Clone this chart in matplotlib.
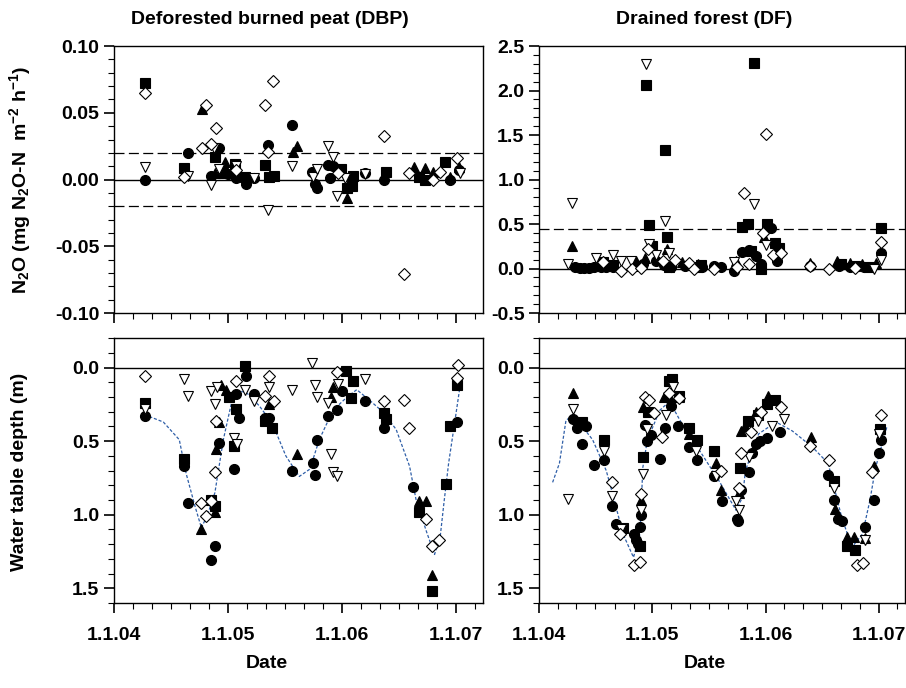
import matplotlib
matplotlib.use('Agg')
import matplotlib.pyplot as plt
import matplotlib.dates as mdates
from matplotlib.ticker import MultipleLocator, FormatStrFormatter
import pandas as pd

plt.rcParams['font.family'] = ['Liberation Sans', 'DejaVu Sans']
plt.rcParams['font.weight'] = 'bold'
plt.rcParams['axes.unicode_minus'] = False
plt.rcParams['mathtext.fontset'] = 'custom'
plt.rcParams['mathtext.rm'] = 'Liberation Sans:bold'
plt.rcParams['mathtext.it'] = 'Liberation Sans:bold'
plt.rcParams['mathtext.bf'] = 'Liberation Sans:bold'
plt.rcParams['mathtext.default'] = 'rm'

# ---------------- DBP N2O flux ----------------
dbp_n2o_circle_d = ['2004-04-08', '2004-08-25', '2004-11-06', '2004-12-02', '2005-01-01', '2005-01-27',
                    '2005-02-25', '2005-03-25', '2005-05-09', '2005-07-24', '2005-09-26', '2005-10-04',
                    '2005-10-12', '2005-11-16', '2005-12-02', '2005-11-21', '2006-03-13', '2006-05-13',
                    '2006-12-13', '2007-01-10']
dbp_n2o_circle_v = [0.000, 0.020, 0.003, 0.024, 0.004, 0.001, -0.003, 0.001, 0.026, 0.041, 0.006, -0.003,
                    -0.006, 0.011, 0.010, 0.001, 0.005, 0.000, 0.000, 0.007]
dbp_n2o_square_d = ['2004-04-08', '2004-08-11', '2004-11-19', '2004-12-16', '2005-01-22', '2005-02-23',
                    '2005-04-29', '2005-05-10', '2005-05-26', '2005-12-28', '2006-01-15', '2006-02-01',
                    '2006-02-04', '2006-05-22', '2006-09-04', '2006-09-22', '2006-11-25']
dbp_n2o_square_v = [0.072, 0.0085, 0.017, 0.005, 0.012, 0.002, 0.011, 0.002, 0.003, 0.008, -0.0065, -0.0045,
                    0.003, 0.0055, 0.002, 0.000, 0.013]
dbp_n2o_tri_d = ['2004-10-08', '2004-11-20', '2004-12-20', '2005-07-26', '2005-08-09', '2006-01-16',
                 '2006-08-19', '2006-09-22', '2006-10-19', '2006-12-13', '2007-01-10']
dbp_n2o_tri_v = [0.0525, 0.005, 0.013, 0.021, 0.025, -0.014, 0.0096, 0.009, 0.006, 0.002, 0.0096]
dbp_n2o_tridown_d = ['2004-04-08', '2004-08-25', '2004-11-06', '2004-11-16', '2004-12-02', '2005-01-27',
                     '2005-03-25', '2005-05-09', '2005-07-24', '2005-09-29', '2005-10-12', '2005-11-16',
                     '2005-12-01', '2005-12-15', '2006-01-10', '2006-03-13', '2007-01-11']
dbp_n2o_tridown_v = [0.0093, 0.003, -0.004, 0.024, 0.008, 0.010, 0.0015, -0.023, 0.010, 0.002, 0.008, 0.025,
                     0.017, -0.012, 0.001, 0.004, 0.005]
dbp_n2o_diam_d = ['2004-04-08', '2004-08-11', '2004-10-08', '2004-10-20', '2004-11-05', '2004-11-24',
                  '2005-01-27', '2005-04-29', '2005-05-25', '2005-05-09', '2005-12-18', '2006-05-13',
                  '2006-07-16', '2006-08-01', '2006-10-19', '2006-11-10', '2007-01-03']
dbp_n2o_diam_v = [0.065, 0.002, 0.0235, 0.0555, 0.027, 0.039, 0.007, 0.056, 0.074, 0.021, 0.005, 0.033,
                  -0.0705, 0.005, 0.000, 0.006, 0.016]

# ---------------- DF N2O flux ----------------
df_n2o_circle_d = ['2004-04-25', '2004-05-11', '2004-05-26', '2004-06-12', '2004-06-28', '2004-07-19',
                   '2004-08-05', '2004-08-26', '2004-11-10', '2004-12-01', '2005-01-11', '2005-02-07',
                   '2005-03-01', '2005-04-16', '2005-06-10', '2005-07-19', '2005-08-10', '2005-09-22',
                   '2005-10-16', '2005-11-10', '2005-12-01', '2005-12-16', '2006-01-18', '2006-02-07',
                   '2006-05-25', '2006-08-25', '2006-10-01', '2006-11-16', '2007-01-10']
df_n2o_circle_v = [0.02, 0.01, 0.01, 0.01, 0.02, 0.02, 0.02, 0.02, 0.03, 0.05, 0.08, 0.04, 0.02, 0.03, 0.02,
                   0.03, 0.02, -0.03, 0.19, 0.21, 0.14, 0.05, 0.46, 0.08, 0.03, 0.03, 0.02, 0.02, 0.18]
df_n2o_square_d = ['2004-07-27', '2004-08-26', '2004-12-10', '2004-12-20', '2005-01-01', '2005-02-12',
                   '2005-02-17', '2005-02-25', '2005-05-25', '2005-06-07', '2005-10-16', '2005-11-07',
                   '2005-11-16', '2005-11-25', '2005-12-16', '2006-01-07', '2006-02-01', '2006-02-13',
                   '2006-09-01', '2006-10-16', '2006-12-01', '2007-01-10']
df_n2o_square_v = [0.07, 0.04, 2.06, 0.49, 0.25, 1.33, 0.35, 0.02, 0.02, 0.04, 0.47, 0.50, 0.20, 2.31, 0.0,
                   0.50, 0.29, 0.23, 0.05, 0.03, 0.02, 0.46]
df_n2o_tri_d = ['2004-04-16', '2004-11-10', '2004-12-07', '2005-02-17', '2005-04-07', '2005-05-28',
                '2005-09-28', '2005-12-28', '2006-05-25', '2006-08-19', '2006-10-01', '2006-11-07',
                '2006-12-25']
df_n2o_tri_v = [0.25, 0.08, 0.12, 0.22, 0.07, 0.05, 0.09, 0.35, 0.06, 0.08, 0.06, 0.05, 0.06]
df_n2o_tridown_d = ['2004-04-04', '2004-04-16', '2004-07-04', '2004-08-26', '2004-09-22', '2004-10-24',
                    '2004-12-10', '2004-12-22', '2005-01-11', '2005-02-10', '2005-02-25', '2005-09-22',
                    '2005-11-25', '2006-01-01', '2006-12-16', '2007-01-10']
df_n2o_tridown_v = [0.05, 0.74, 0.12, 0.15, 0.08, 0.08, 2.30, 0.28, 0.15, 0.53, 0.18, 0.07, 0.72, 0.27,
                    0.0, 0.10]
df_n2o_diam_d = ['2004-07-24', '2004-09-22', '2004-10-28', '2004-11-25', '2004-12-19', '2005-02-04',
                 '2005-03-16', '2005-04-28', '2005-05-16', '2005-07-19', '2005-10-01', '2005-10-25',
                 '2005-11-10', '2005-12-25', '2006-01-04', '2006-01-25', '2006-02-19', '2006-05-25',
                 '2006-07-25', '2006-10-16', '2007-01-10']
df_n2o_diam_v = [0.07, -0.03, 0.00, 0.01, 0.22, 0.08, 0.10, 0.06, 0.0, 0.0, 0.02, 0.85, 0.05, 0.40, 1.515,
                 0.15, 0.17, 0.025, 0.00, 0.01, 0.30]

# ---------------- DBP water table ----------------
dbp_wt_circle_d = ['2004-04-08', '2004-08-11', '2004-08-25', '2004-11-05', '2004-11-19', '2004-12-02',
                   '2005-01-20', '2005-01-27', '2005-02-04', '2005-02-25', '2005-03-25', '2005-04-29',
                   '2005-05-10', '2005-07-24', '2005-09-28', '2005-10-04', '2005-10-13', '2005-11-16',
                   '2005-12-16', '2006-01-01', '2006-03-13', '2006-05-13', '2006-08-16', '2007-01-04']
dbp_wt_circle_v = [0.33, 0.67, 0.92, 1.31, 1.21, 0.51, 0.69, 0.18, 0.34, 0.06, 0.18, 0.34, 0.34, 0.70, 0.65,
                   0.73, 0.49, 0.33, 0.29, 0.16, 0.23, 0.41, 0.81, 0.37]
dbp_wt_square_d = ['2004-04-08', '2004-08-11', '2004-11-05', '2004-11-19', '2005-01-04', '2005-01-20',
                   '2005-01-27', '2005-02-22', '2005-04-29', '2005-05-22', '2006-01-11', '2006-01-28',
                   '2006-02-04', '2006-05-13', '2006-05-22', '2006-09-04', '2006-10-16', '2006-11-28',
                   '2006-12-10', '2007-01-04']
dbp_wt_square_v = [0.24, 0.62, 0.90, 0.94, 0.20, 0.53, 0.28, -0.01, 0.36, 0.41, 0.02, 0.21, 0.09, 0.31,
                   0.35, 0.98, 1.52, 0.79, 0.40, 0.12]
dbp_wt_tri_d = ['2004-10-04', '2004-11-19', '2004-11-24', '2004-12-02', '2004-12-10', '2004-12-25',
                '2005-05-10', '2005-08-10', '2005-12-02', '2005-11-25', '2006-09-04', '2006-09-25',
                '2006-10-16', '2007-01-04']
dbp_wt_tri_v = [1.10, 0.98, 0.55, 0.37, 0.12, 0.15, 0.25, 0.59, 0.13, 0.20, 0.91, 0.91, 1.41, 0.10]
dbp_wt_tridown_d = ['2004-04-08', '2004-08-11', '2004-08-25', '2004-11-07', '2004-11-19', '2004-11-25',
                    '2005-01-19', '2005-01-28', '2005-02-23', '2005-03-25', '2005-05-10', '2005-07-25',
                    '2005-09-26', '2005-10-04', '2005-10-13', '2005-11-16', '2005-11-25', '2005-12-02',
                    '2005-12-16', '2005-12-19', '2006-03-13']
dbp_wt_tridown_v = [0.28, 0.08, 0.19, 0.16, 0.25, 0.13, 0.48, 0.52, 0.15, 0.23, 0.13, 0.15, -0.03, 0.12,
                    0.20, 0.24, 0.59, 0.71, 0.74, 0.11, 0.08]
dbp_wt_diam_d = ['2004-04-08', '2004-10-07', '2004-10-20', '2004-11-05', '2004-11-19', '2004-11-24',
                 '2005-01-27', '2005-04-29', '2005-05-10', '2005-05-28', '2005-12-16', '2006-05-13',
                 '2006-07-16', '2006-08-02', '2006-09-25', '2006-10-16', '2006-11-07', '2007-01-04',
                 '2007-01-07']
dbp_wt_diam_v = [0.06, 0.92, 1.01, 0.91, 0.71, 0.36, 0.09, 0.19, 0.06, 0.23, 0.03, 0.23, 0.22, 0.41, 1.03,
                 1.21, 1.17, 0.07, -0.02]
dbp_fit_d = ['2004-04-08', '2004-06-07', '2004-07-28', '2004-08-19', '2004-09-16', '2004-10-07', '2004-10-28',
             '2004-11-19', '2004-12-16', '2005-01-11', '2005-02-07', '2005-02-28', '2005-04-10', '2005-05-22',
             '2005-07-04', '2005-08-16', '2005-09-19', '2005-10-19', '2005-12-02', '2006-01-16', '2006-02-16',
             '2006-03-28', '2006-05-10', '2006-06-22', '2006-08-04', '2006-08-25', '2006-09-28', '2006-10-23',
             '2006-11-10', '2006-11-22', '2006-12-07', '2006-12-28', '2007-01-13']
dbp_fit_v = [0.32, 0.37, 0.49, 0.72, 0.94, 1.09, 0.99, 0.85, 0.49, 0.24, 0.16, 0.17, 0.26, 0.38, 0.60, 0.74,
             0.69, 0.49, 0.29, 0.20, 0.15, 0.22, 0.30, 0.42, 0.67, 0.90, 1.12, 1.27, 1.15, 0.92, 0.65, 0.35,
             0.12]

# ---------------- DF water table ----------------
df_wt_circle_d = ['2004-04-20', '2004-05-02', '2004-05-19', '2004-06-01', '2004-06-28', '2004-07-28',
                  '2004-08-25', '2004-09-07', '2004-11-04', '2004-11-10', '2004-11-16', '2004-11-22',
                  '2004-11-26', '2004-12-07', '2004-12-13', '2004-12-28', '2005-01-25', '2005-02-10',
                  '2005-03-01', '2005-03-25', '2005-04-29', '2005-05-25', '2005-07-19', '2005-08-13',
                  '2005-10-01', '2005-10-05', '2005-10-13', '2005-11-10', '2005-11-19', '2005-12-01',
                  '2005-12-13', '2006-01-07', '2006-02-16', '2006-07-22', '2006-08-10', '2006-08-22',
                  '2006-09-04', '2006-11-19', '2006-12-16', '2007-01-01', '2007-01-10']
df_wt_circle_v = [0.35, 0.41, 0.52, 0.40, 0.66, 0.63, 0.94, 1.06, 1.13, 1.17, 1.20, 1.08, 1.00, 0.39, 0.50,
                  0.46, 0.62, 0.41, 0.26, 0.40, 0.54, 0.63, 0.74, 0.91, 1.03, 1.04, 0.83, 0.71, 0.58, 0.52,
                  0.50, 0.48, 0.44, 0.73, 0.90, 1.03, 1.04, 1.08, 0.90, 0.58, 0.49]
df_wt_square_d = ['2004-05-19', '2004-07-28', '2004-09-28', '2004-11-22', '2004-12-01', '2004-12-19',
                  '2005-02-25', '2005-03-04', '2005-03-28', '2005-04-29', '2005-05-25', '2005-07-19',
                  '2005-10-10', '2005-11-04', '2005-12-07', '2006-01-07', '2006-02-01', '2006-08-10',
                  '2006-09-22', '2006-10-16', '2007-01-04']
df_wt_square_v = [0.37, 0.49, 1.09, 1.21, 0.61, 0.30, 0.09, 0.08, 0.19, 0.41, 0.49, 0.57, 0.68, 0.36, 0.32,
                  0.25, 0.22, 0.77, 1.21, 1.24, 0.42]
df_wt_tri_d = ['2004-04-20', '2004-11-26', '2004-12-01', '2005-02-07', '2005-02-25', '2005-03-28',
               '2005-04-28', '2005-07-19', '2005-07-25', '2005-08-10', '2005-10-07', '2005-10-13',
               '2005-10-28', '2005-12-01', '2006-01-10', '2006-05-28', '2006-08-13', '2006-09-22',
               '2006-10-13', '2006-11-19', '2006-12-16']
df_wt_tri_v = [0.17, 0.90, 0.27, 0.20, 0.19, 0.20, 0.45, 0.57, 0.65, 0.83, 0.85, 0.43, 0.40, 0.30, 0.19,
               0.47, 0.96, 1.15, 1.15, 1.16, 0.67]
df_wt_tridown_d = ['2004-04-04', '2004-04-20', '2004-07-28', '2004-08-25', '2004-09-22', '2004-11-26',
                   '2004-12-01', '2004-12-16', '2005-02-13', '2005-03-07', '2005-05-22', '2005-07-25',
                   '2005-09-28', '2005-10-07', '2005-11-10', '2005-12-07', '2006-01-22', '2006-02-28',
                   '2006-08-10', '2006-11-19', '2007-01-01']
df_wt_tridown_v = [0.89, 0.28, 0.57, 0.87, 1.10, 0.97, 0.72, 0.42, 0.32, 0.13, 0.57, 0.74, 0.91, 0.97, 0.61,
                   0.36, 0.40, 0.35, 0.82, 1.17, 0.45]
df_wt_diam_d = ['2004-08-25', '2004-09-19', '2004-11-04', '2004-11-22', '2004-11-25', '2004-12-07',
                '2004-12-20', '2005-01-07', '2005-02-01', '2005-02-25', '2005-03-28', '2005-08-10',
                '2005-10-07', '2005-10-13', '2005-11-16', '2005-12-16', '2006-02-19', '2006-05-25',
                '2006-07-25', '2006-10-22', '2006-11-10', '2006-12-10', '2007-01-10']
df_wt_diam_v = [0.78, 1.13, 1.34, 1.32, 0.86, 0.20, 0.22, 0.31, 0.47, 0.17, 0.21, 0.70, 0.82, 0.58, 0.44,
                0.30, 0.27, 0.53, 0.63, 1.34, 1.33, 0.71, 0.32]
df_fit_d = ['2004-02-14', '2004-03-07', '2004-03-28', '2004-04-20', '2004-06-22', '2004-08-05', '2004-08-26',
            '2004-09-28', '2004-11-01', '2004-11-22', '2004-12-01', '2004-12-16', '2005-01-25', '2005-02-25',
            '2005-04-19', '2005-06-01', '2005-08-04', '2005-09-28', '2005-10-19', '2005-10-28', '2005-12-10',
            '2006-02-04', '2006-03-28', '2006-06-01', '2006-07-22', '2006-09-04', '2006-10-07', '2006-11-10',
            '2006-12-04', '2006-12-22', '2007-01-28']
df_fit_v = [0.78, 0.65, 0.36, 0.32, 0.49, 0.70, 0.86, 1.13, 1.29, 1.13, 0.68, 0.49, 0.29, 0.23, 0.43, 0.56,
            0.77, 0.97, 0.88, 0.70, 0.45, 0.37, 0.43, 0.54, 0.65, 1.02, 1.22, 1.13, 0.90, 0.68, 0.40]

x_start = pd.Timestamp('2004-01-01')
x_end = pd.Timestamp('2007-03-27')


def draw_points(ax, series):
    styles = [('o', 'black', 7.2), ('s', 'black', 6.6), ('^', 'black', 7.2),
              ('v', 'white', 7.2), ('D', 'white', 6.2)]
    for (dates, vals), (mk, fc, ms) in zip(series, styles):
        ax.plot(pd.to_datetime(dates), vals, linestyle='none', marker=mk, markersize=ms,
                markerfacecolor=fc, markeredgecolor='black', markeredgewidth=0.8, zorder=3)


def style_axis(ax, show_xlabels):
    ax.set_xlim(x_start, x_end)
    ax.xaxis.set_major_locator(mdates.YearLocator())
    ax.xaxis.set_minor_locator(mdates.MonthLocator(bymonth=[3, 5, 7, 9, 11]))
    ax.xaxis.set_major_formatter(mdates.DateFormatter('1.1.%y'))
    ax.tick_params(which='major', direction='out', length=7, width=1.2, labelsize=14)
    ax.tick_params(which='minor', direction='out', length=4, width=0.8)
    if not show_xlabels:
        ax.tick_params(axis='x', labelbottom=False)
    else:
        ax.tick_params(axis='x', pad=10)
    for sp in ax.spines.values():
        sp.set_linewidth(1.0)


fig = plt.figure(figsize=(9.06, 6.88), dpi=100)
ax_tl = fig.add_axes([0.1258, 0.545, 0.4073, 0.388])
ax_tr = fig.add_axes([0.5949, 0.545, 0.404, 0.388])
ax_bl = fig.add_axes([0.1258, 0.1235, 0.4073, 0.385])
ax_br = fig.add_axes([0.5949, 0.1235, 0.404, 0.385])

dash = (0, (8, 3.5))

# DBP N2O
ax_tl.axhline(0, color='black', lw=1.0, zorder=1)
ax_tl.axhline(0.02, color='black', lw=0.9, linestyle=dash, zorder=1)
ax_tl.axhline(-0.02, color='black', lw=0.9, linestyle=dash, zorder=1)
draw_points(ax_tl, [(dbp_n2o_circle_d, dbp_n2o_circle_v), (dbp_n2o_square_d, dbp_n2o_square_v),
                    (dbp_n2o_tri_d, dbp_n2o_tri_v), (dbp_n2o_tridown_d, dbp_n2o_tridown_v),
                    (dbp_n2o_diam_d, dbp_n2o_diam_v)])
ax_tl.set_ylim(-0.10, 0.10)
ax_tl.yaxis.set_major_locator(MultipleLocator(0.05))
ax_tl.yaxis.set_minor_locator(MultipleLocator(0.01))
ax_tl.yaxis.set_major_formatter(FormatStrFormatter('%.2f'))
style_axis(ax_tl, False)

# DF N2O
ax_tr.axhline(0, color='black', lw=1.0, zorder=1)
ax_tr.axhline(0.45, color='black', lw=0.9, linestyle=dash, zorder=1)
draw_points(ax_tr, [(df_n2o_circle_d, df_n2o_circle_v), (df_n2o_square_d, df_n2o_square_v),
                    (df_n2o_tri_d, df_n2o_tri_v), (df_n2o_tridown_d, df_n2o_tridown_v),
                    (df_n2o_diam_d, df_n2o_diam_v)])
ax_tr.set_ylim(-0.5, 2.5)
ax_tr.yaxis.set_major_locator(MultipleLocator(0.5))
ax_tr.yaxis.set_minor_locator(MultipleLocator(0.1))
ax_tr.yaxis.set_major_formatter(FormatStrFormatter('%.1f'))
style_axis(ax_tr, False)

# DBP water table
ax_bl.axhline(0, color='black', lw=1.0, zorder=1)
ax_bl.plot(pd.to_datetime(dbp_fit_d), dbp_fit_v, color='#2f5fa8', lw=0.9, linestyle=(0, (2.5, 1.5)), zorder=2)
draw_points(ax_bl, [(dbp_wt_circle_d, dbp_wt_circle_v), (dbp_wt_square_d, dbp_wt_square_v),
                    (dbp_wt_tri_d, dbp_wt_tri_v), (dbp_wt_tridown_d, dbp_wt_tridown_v),
                    (dbp_wt_diam_d, dbp_wt_diam_v)])
ax_bl.set_ylim(1.6, -0.2)
ax_bl.yaxis.set_major_locator(MultipleLocator(0.5))
ax_bl.yaxis.set_minor_locator(MultipleLocator(0.1))
ax_bl.yaxis.set_major_formatter(FormatStrFormatter('%.1f'))
style_axis(ax_bl, True)

# DF water table
ax_br.axhline(0, color='black', lw=1.0, zorder=1)
ax_br.plot(pd.to_datetime(df_fit_d), df_fit_v, color='#2f5fa8', lw=0.9, linestyle=(0, (2.5, 1.5)), zorder=2)
draw_points(ax_br, [(df_wt_circle_d, df_wt_circle_v), (df_wt_square_d, df_wt_square_v),
                    (df_wt_tri_d, df_wt_tri_v), (df_wt_tridown_d, df_wt_tridown_v),
                    (df_wt_diam_d, df_wt_diam_v)])
ax_br.set_ylim(1.6, -0.2)
ax_br.yaxis.set_major_locator(MultipleLocator(0.5))
ax_br.yaxis.set_minor_locator(MultipleLocator(0.1))
ax_br.yaxis.set_major_formatter(FormatStrFormatter('%.1f'))
style_axis(ax_br, True)

fig.text(267 / 906, 1 - 664 / 688, 'Date', ha='center', va='center', fontsize=14, fontweight='bold')
fig.text(705 / 906, 1 - 664 / 688, 'Date', ha='center', va='center', fontsize=14, fontweight='bold')

fig.text(270 / 906, 1 - 20 / 688, 'Deforested burned peat (DBP)', ha='center', va='center',
         fontsize=14, fontweight='bold')
fig.text(704 / 906, 1 - 20 / 688, 'Drained forest (DF)', ha='center', va='center',
         fontsize=14, fontweight='bold')
fig.text(0.022, 1 - 180 / 688, r'N$_2$O (mg N$_2$O-N  m$^{-2}$ h$^{-1}$)', rotation=90,
         ha='center', va='center', fontsize=14, fontweight='bold')
fig.text(0.022, 1 - 472 / 688, 'Water table depth (m)', rotation=90,
         ha='center', va='center', fontsize=14, fontweight='bold')

fig.savefig('out.png', dpi=100)
